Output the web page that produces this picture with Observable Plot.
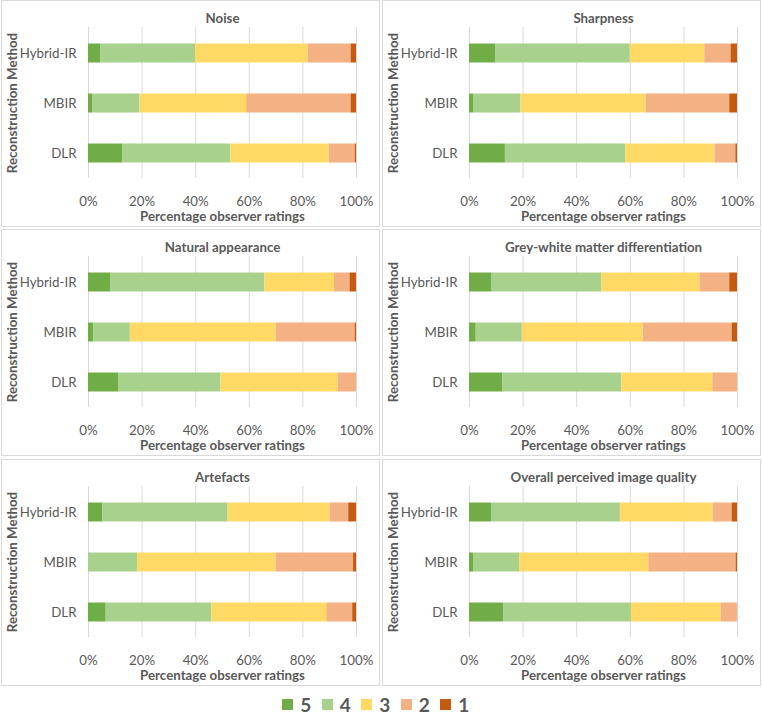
<!DOCTYPE html>
<html>
<head>
<meta charset="utf-8">
<script src="https://cdn.jsdelivr.net/npm/d3@7"></script>
<script src="https://cdn.jsdelivr.net/npm/@observablehq/plot@0.6"></script>
<style>
  html, body { margin: 0; padding: 0; background: #fff; }
  #root { position: relative; width: 762px; height: 721px; overflow: hidden; font-family: Lato, "Open Sans", sans-serif; }
  .panel { position: absolute; border: 1px solid #d9d9d9; box-sizing: content-box; }
  .panel svg { display: block; }
  #legend { position: absolute; left: 0; width: 762px; top: 693px; display: flex; justify-content: center; align-items: center; gap: 0; color: #595959; font-weight: bold; font-size: 19px; }
  .item { display: flex; align-items: center; width: 39.5px; }
  .sw { width: 11px; height: 11px; margin-right: 7px; }
</style>
</head>
<body>
<div id="root"></div>
<script>
// ---- data (percentages) ----
const methods = ["Hybrid-IR", "MBIR", "DLR"];
const ratings = ["5", "4", "3", "2", "1"];
const ratingColors = ["#70AD47", "#A9D18E", "#FFD966", "#F4B183", "#C55A11"];
const criteria = ["Noise", "Sharpness", "Natural appearance", "Grey-white matter differentiation", "Artefacts", "Overall perceived image quality"];
const xTicks = [0, 20, 40, 60, 80, 100];
const xTitle = "Percentage observer ratings";
const yTitle = "Reconstruction Method";

// each: rows = methods (Hybrid-IR, MBIR, DLR), cols = ratings 5..1
const noise      = [[4.5, 35.5, 42.0, 16.0, 2.0], [1.5, 17.7, 39.8, 39.0, 2.0], [12.7, 40.4, 36.7, 9.7, 0.5]];
const sharpness  = [[9.7, 50.3, 27.8, 9.8, 2.4], [1.7, 17.5, 46.7, 31.2, 2.9], [13.4, 44.9, 33.3, 7.8, 0.6]];
const natural    = [[8.2, 57.6, 26.0, 5.8, 2.4], [1.9, 13.7, 54.4, 29.5, 0.5], [11.2, 38.2, 43.7, 6.9, 0.0]];
const greyWhite  = [[8.2, 41.1, 36.7, 11.1, 2.9], [2.5, 17.2, 45.1, 33.2, 2.0], [12.5, 44.3, 34.0, 9.2, 0.0]];
const artefacts  = [[5.4, 46.7, 38.0, 7.0, 2.9], [0.0, 18.3, 51.7, 28.9, 1.1], [6.6, 39.4, 42.9, 9.7, 1.4]];
const overall    = [[8.2, 48.1, 34.6, 7.1, 2.0], [1.7, 17.0, 48.2, 32.6, 0.5], [12.7, 47.7, 33.5, 6.1, 0.0]];
const panelData = [noise, sharpness, natural, greyWhite, artefacts, overall];

// ---- layout ----
const panelW = 377, panelH = 225;
const colLeft = [1, 382];
const rowTop = [0, 229, 459];
const textColor = "#595959";

const root = document.getElementById("root");

criteria.forEach((title, i) => {
  const rows = [];
  panelData[i].forEach((vals, m) => {
    vals.forEach((v, r) => rows.push({method: methods[m], rating: ratings[r], value: v}));
  });

  const chart = Plot.plot({
    width: panelW,
    height: panelH,
    marginLeft: 86,
    marginRight: 23,
    marginTop: 26,
    marginBottom: 48,
    style: {fontFamily: "Lato, 'Open Sans', sans-serif", fontSize: "13px", color: textColor, background: "#fff", overflow: "visible"},
    x: {domain: [0, 100]},
    y: {domain: methods, padding: 0},
    color: {domain: ratings, range: ratingColors},
    marks: [
      Plot.gridX(xTicks, {stroke: "#d9d9d9", strokeOpacity: 1, strokeWidth: 1}),
      Plot.barX(rows, Plot.stackX({x: "value", y: "method", fill: "rating", order: ratings, insetTop: 15.5, insetBottom: 15.5})),
      Plot.axisX({ticks: xTicks, tickFormat: d => d + "%", tickSize: 0, tickPadding: 18, label: null, fill: textColor, fontSize: 13.3}),
      Plot.axisY({tickSize: 0, tickPadding: 12, label: null, fill: textColor, fontSize: 13.3}),
      Plot.text([title], {frameAnchor: "top", lineAnchor: "middle", dy: -8.5, fontWeight: "bold", fontSize: 13.3, fill: textColor}),
      Plot.text([xTitle], {frameAnchor: "bottom", lineAnchor: "middle", dy: 38.5, fontWeight: "bold", fontSize: 13.3, fill: textColor}),
      Plot.text([yTitle], {frameAnchor: "left", textAnchor: "middle", lineAnchor: "middle", dx: -76, rotate: -90, fontWeight: "bold", fontSize: 13.3, fill: textColor})
    ]
  });

  const div = document.createElement("div");
  div.className = "panel";
  div.style.left = colLeft[i % 2] + "px";
  div.style.top = rowTop[Math.floor(i / 2)] + "px";
  div.style.width = panelW + "px";
  div.style.height = panelH + "px";
  div.appendChild(chart);
  root.appendChild(div);
});

// ---- legend ----
const legend = document.createElement("div");
legend.id = "legend";
ratings.forEach((r, k) => {
  const item = document.createElement("div");
  item.className = "item";
  const sw = document.createElement("span");
  sw.className = "sw";
  sw.style.background = ratingColors[k];
  const lab = document.createElement("span");
  lab.textContent = r;
  item.appendChild(sw);
  item.appendChild(lab);
  legend.appendChild(item);
});
root.appendChild(legend);
</script>
</body>
</html>
